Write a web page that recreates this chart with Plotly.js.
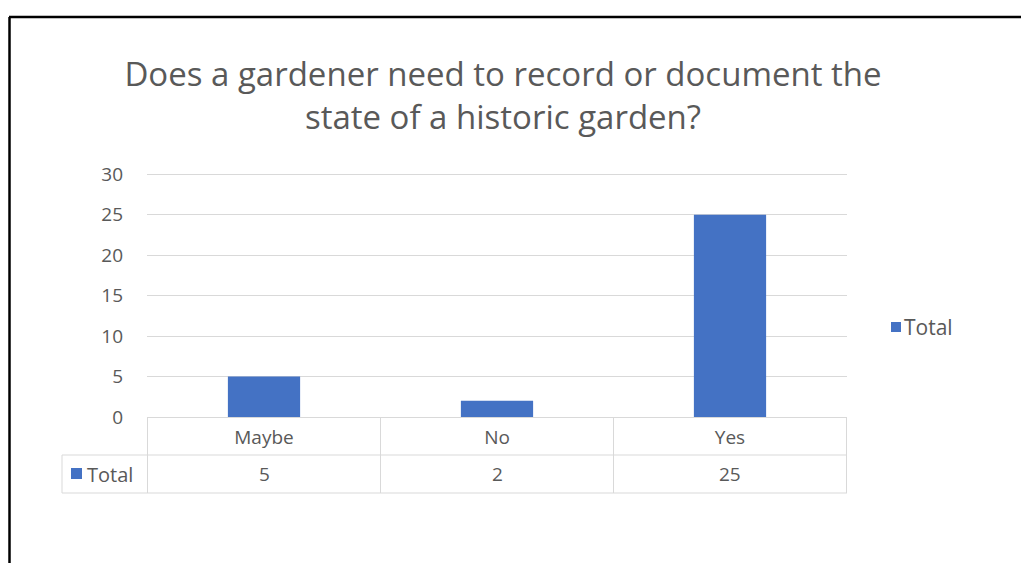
<!DOCTYPE html>
<html>
<head>
<meta charset="utf-8">
<script src="https://cdn.plot.ly/plotly-3.0.1.min.js"></script>
<style>
html,body{margin:0;padding:0;background:#fff;}
#chart{width:1021px;height:563px;}
</style>
</head>
<body>
<div id="chart"></div>
<script>
const categories = ["Maybe", "No", "Yes"];
const totals = [5, 2, 25];
const seriesName = "Total";
const yTicks = [0, 5, 10, 15, 20, 25, 30];

const FONT = "'Open Sans', sans-serif";
const GREY = "#595959";
const LINE = "#d9d9d9";
const BLUE = "#4472C4";

// plot area in pixels: x 147..847, y 173..417
const plotTop = 173, plotBottom = 417, plotLeft = 147, plotW = 700;
const plotH = plotBottom - plotTop;
const py = p => (plotBottom - p) / plotH;   // pixel row -> paper y
const px = p => (p - plotLeft) / plotW;     // pixel col -> paper x

const rowBottom1 = py(455);
const rowBottom2 = py(493);
const tableLeft = px(62);

const shapes = [];
shapes.push({type:'line', xref:'paper', yref:'paper', x0:tableLeft, x1:1, y0:rowBottom1, y1:rowBottom1, line:{color:LINE, width:1}});
shapes.push({type:'line', xref:'paper', yref:'paper', x0:tableLeft, x1:1, y0:rowBottom2, y1:rowBottom2, line:{color:LINE, width:1}});
shapes.push({type:'line', xref:'paper', yref:'paper', x0:tableLeft, x1:tableLeft, y0:rowBottom1, y1:rowBottom2, line:{color:LINE, width:1}});
for (let i = 0; i <= categories.length; i++) {
  shapes.push({type:'line', xref:'x', yref:'paper', x0:i - 0.5, x1:i - 0.5, y0:0, y1:rowBottom2, line:{color:LINE, width:1}});
}
// legend key in the data table row
shapes.push({type:'rect', xref:'paper', yref:'paper', x0:px(71), x1:px(82), y0:py(468), y1:py(479), fillcolor:BLUE, line:{width:0}});
// chart legend key
shapes.push({type:'rect', xref:'paper', yref:'paper', x0:px(891), x1:px(901), y0:py(322), y1:py(332), fillcolor:BLUE, line:{width:0}});
// chart frame (top and left black edges)
shapes.push({type:'line', xref:'paper', yref:'paper', x0:px(9), x1:px(1021), y0:py(17), y1:py(17), line:{color:'#000', width:2.5}});
shapes.push({type:'line', xref:'paper', yref:'paper', x0:px(9.5), x1:px(9.5), y0:py(17), y1:py(563), line:{color:'#000', width:2.5}});

const annotations = [];
const valueRowY = py(474);
categories.forEach((c, i) => {
  annotations.push({xref:'x', yref:'paper', x:c, y:valueRowY, text:String(totals[i]), showarrow:false,
    font:{family:FONT, size:19, color:GREY}, xanchor:'center', yanchor:'middle'});
});
annotations.push({xref:'paper', yref:'paper', x:px(85), y:valueRowY, text:seriesName, showarrow:false,
  font:{family:FONT, size:20, color:GREY}, xanchor:'left', yanchor:'middle'});
// chart legend label
annotations.push({xref:'paper', yref:'paper', x:px(902), y:py(327), text:seriesName, showarrow:false,
  font:{family:FONT, size:21, color:GREY}, xanchor:'left', yanchor:'middle'});

const data = [{
  type:'bar',
  x: categories,
  y: totals,
  name: seriesName,
  marker:{color:BLUE},
  width: 0.31,
  showlegend: false
}];

const layout = {
  width:1021, height:563,
  margin:{l:plotLeft, r:1021 - plotLeft - plotW, t:plotTop, b:563 - plotBottom, pad:0},
  paper_bgcolor:'#fff', plot_bgcolor:'#fff',
  font:{family:FONT, color:GREY, size:19},
  title:{
    text:"Does a gardener need to record or document the<br>state of a historic garden?",
    font:{family:FONT, size:33, color:GREY},
    x:px(503), xref:'paper', xanchor:'center',
    y:1 - 86/563, yref:'container', yanchor:'middle'
  },
  xaxis:{
    type:'category',
    showgrid:false, zeroline:false,
    showline:true, linecolor:LINE, linewidth:1,
    ticks:'', ticklabelstandoff:3,
    tickfont:{family:FONT, size:19, color:GREY},
    fixedrange:true
  },
  yaxis:{
    range:[0,30.15], tickvals:yTicks,
    showgrid:true, gridcolor:LINE, gridwidth:1,
    zeroline:false, showline:false,
    ticks:'', ticklabelstandoff:23,
    tickfont:{family:FONT, size:19, color:GREY},
    fixedrange:true
  },
  showlegend:false,
  shapes:shapes,
  annotations:annotations,
  bargap:0.69
};

Plotly.newPlot('chart', data, layout, {displayModeBar:false, staticPlot:true});
</script>
</body>
</html>
